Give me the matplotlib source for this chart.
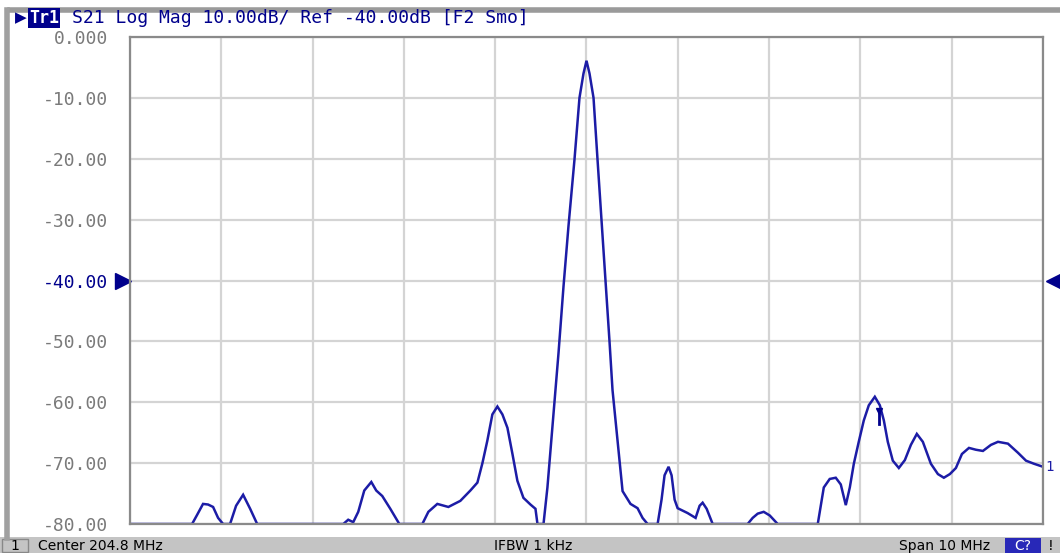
import matplotlib
matplotlib.use('Agg')
import matplotlib.pyplot as plt
from matplotlib.patches import Rectangle
from matplotlib.lines import Line2D

# S21 trace (MHz, dB)
freq_mhz = [199.800, 200.480, 200.535, 200.600, 200.655, 200.710, 200.765, 200.820, 200.896,
            200.962, 201.039, 201.116, 201.193, 202.136, 202.190, 202.245, 202.300, 202.366,
            202.443, 202.497, 202.563, 202.651, 202.750, 203.002, 203.068, 203.166, 203.287,
            203.418, 203.528, 203.605, 203.660, 203.714, 203.769, 203.824, 203.879, 203.934,
            203.989, 204.043, 204.109, 204.186, 204.241, 204.263, 204.329, 204.372, 204.405,
            204.438, 204.493, 204.548, 204.603, 204.668, 204.723, 204.767, 204.800,
            204.833, 204.877, 204.921, 204.964, 205.008, 205.052, 205.085, 205.140, 205.195,
            205.282, 205.359, 205.414, 205.469, 205.579, 205.622, 205.655, 205.699, 205.732,
            205.765, 205.798, 205.907, 205.995, 206.039, 206.072, 206.116, 206.182, 206.565,
            206.620, 206.675, 206.741, 206.807, 206.894, 207.333, 207.366, 207.399, 207.464,
            207.530, 207.585, 207.640, 207.684, 207.728, 207.782, 207.837, 207.892, 207.958,
            208.013, 208.057, 208.100, 208.155, 208.221, 208.287, 208.353, 208.418, 208.484,
            208.572, 208.649, 208.714, 208.780, 208.846, 208.912, 208.989, 209.065, 209.142,
            209.230, 209.307, 209.416, 209.526, 209.614, 209.701, 209.800]
s21_db = [-80, -80, -78.5, -76.7, -76.8, -77.2, -79, -80, -80,
          -77, -75.2, -77.5, -80, -80, -79.3, -79.7, -78, -74.5,
          -73.1, -74.5, -75.4, -77.5, -80, -80, -78, -76.7, -77.2,
          -76.2, -74.5, -73.2, -70, -66.3, -62, -60.7, -62, -64.2,
          -68.5, -72.9, -75.7, -76.8, -77.5, -80, -80, -74, -68,
          -62, -52, -41, -31, -20.2, -10, -6, -3.9,
          -6, -10, -20.2, -30, -40, -50, -58, -66.3, -74.6,
          -76.7, -77.4, -79, -80, -80, -76, -72, -70.6, -72,
          -76, -77.4, -78.2, -79, -77, -76.5, -77.5, -80, -80,
          -79, -78.3, -78, -78.6, -80, -80, -77, -74, -72.6,
          -72.4, -73.5, -76.9, -74, -70.1, -66.5, -63, -60.5, -59.1,
          -60.5, -63, -66.5, -69.6, -70.8, -69.5, -67, -65.2, -66.5,
          -70.1, -71.8, -72.4, -71.8, -70.8, -68.5, -67.5, -67.8, -68,
          -67, -66.5, -66.8, -68.3, -69.6, -70.1, -70.6]

center_mhz = 204.8
span_mhz = 10.0
ref_db = -40.0
scale_db = 10.0
y_ticks = [0, -10, -20, -30, -40, -50, -60, -70, -80]
y_labels = ['0.000', '-10.00', '-20.00', '-30.00', '-40.00', '-50.00', '-60.00', '-70.00', '-80.00']
marker_mhz = 208.0

W, H = 1060, 553
blue = '#1c1ca6'
dark_blue = '#00008c'
grey_txt = '#7a7a7a'


def px(x, y):
    return x / W, 1 - y / H


fig = plt.figure(figsize=(W / 100, H / 100), dpi=100)
fig.patch.set_facecolor('white')

ax = fig.add_axes([130 / W, 29 / H, 913 / W, 487 / H])
ax.plot(freq_mhz, s21_db, color=blue, lw=1.8, solid_joinstyle='miter')
ax.set_xlim(center_mhz - span_mhz / 2, center_mhz + span_mhz / 2)
ax.set_ylim(ref_db - 4 * scale_db, ref_db + 4 * scale_db)
ax.set_xticks([center_mhz - span_mhz / 2 + i * span_mhz / 10 for i in range(11)])
ax.set_xticklabels([])
ax.set_yticks(y_ticks)
ax.set_yticklabels(y_labels, fontfamily='DejaVu Sans Mono', fontsize=13, color=grey_txt)
ax.get_yticklabels()[4].set_color(dark_blue)
ax.tick_params(length=0, pad=16)
ax.grid(True, color='#d4d4d4', lw=1.6)
ax.set_axisbelow(True)
for s in ax.spines.values():
    s.set_color('#8a8a8a')
    s.set_linewidth(1.6)

# reference level arrows
ax.plot([-0.008], [ref_db], marker='>', ms=11, color=dark_blue, transform=ax.get_yaxis_transform(), clip_on=False)
ax.plot([1.012], [ref_db], marker='<', ms=11, color=dark_blue, transform=ax.get_yaxis_transform(), clip_on=False)

# marker 1
ax.plot([marker_mhz], [-61.5], marker='v', ms=5, color=dark_blue)
ax.plot([marker_mhz, marker_mhz], [-61.5, -63.5], color=dark_blue, lw=2)
ax.text(1.002, -70.6, '1', transform=ax.get_yaxis_transform(), color=blue, fontsize=10,
        va='center', ha='left', fontfamily='DejaVu Sans Mono')

# window frame
fig.add_artist(Line2D([px(10, 0)[0], 1], [px(0, 10)[1]] * 2, color='#9a9a9a', lw=4))
fig.add_artist(Line2D([px(7, 0)[0]] * 2, [px(0, 10)[1], px(0, 538)[1]], color='#a0a0a0', lw=4))

# trace header
fig.text(*px(15, 18), '\u25b6', color=dark_blue, fontsize=11, va='center', ha='left')
fig.text(*px(29, 18), 'Tr1', color='white', fontsize=12, va='center', ha='left',
         fontfamily='DejaVu Sans Mono', fontweight='bold',
         bbox=dict(facecolor=dark_blue, edgecolor='none', pad=0.5))
fig.text(*px(72, 18), 'S21 Log Mag 10.00dB/ Ref -40.00dB [F2 Smo]', color=dark_blue, fontsize=13,
         va='center', ha='left', fontfamily='DejaVu Sans Mono')

# status bar
fig.add_artist(Rectangle(px(0, 553), 1, 16 / H, facecolor='#c4c4c4', edgecolor='none'))
fig.add_artist(Rectangle(px(2, 552), 26 / W, 13 / H, facecolor='#c4c4c4', edgecolor='#888888', lw=1))
fig.text(*px(15, 546), '1', fontsize=10, va='center', ha='center', color='black')
fig.text(*px(38, 546), 'Center 204.8 MHz', fontsize=10, va='center', ha='left', color='black')
fig.text(*px(533, 546), 'IFBW 1 kHz', fontsize=10, va='center', ha='center', color='black')
fig.text(*px(990, 546), 'Span 10 MHz', fontsize=10, va='center', ha='right', color='black')
fig.add_artist(Rectangle(px(1005, 553), 36 / W, 15 / H, facecolor='#2828b8', edgecolor='none'))
fig.text(*px(1023, 546), 'C?', fontsize=10, va='center', ha='center', color='white')
fig.text(*px(1051, 546), '!', fontsize=10, va='center', ha='center', color='black')

fig.savefig('out.png', dpi=100)
